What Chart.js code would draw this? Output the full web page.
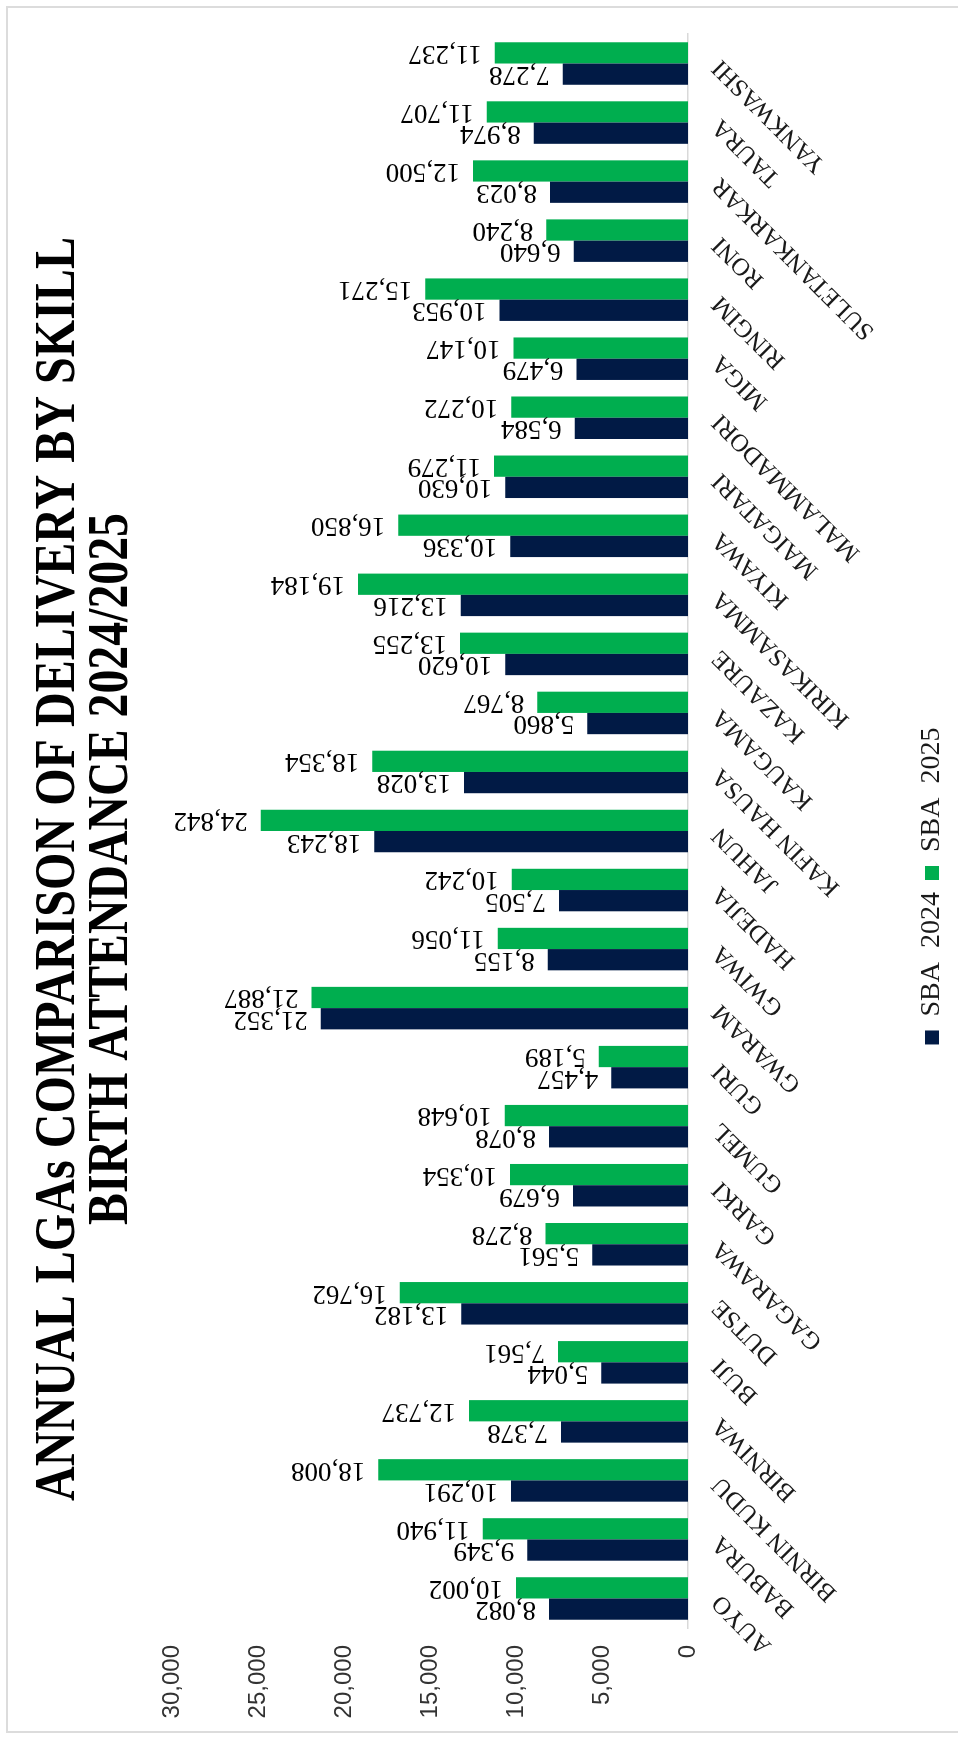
<!DOCTYPE html>
<html>
<head>
<meta charset="utf-8">
<script src="https://cdn.jsdelivr.net/npm/chart.js@4.4.1/dist/chart.umd.min.js"></script>
<style>
html,body{margin:0;padding:0;background:#fff;width:958px;height:1738px;overflow:hidden;}
#wrap{position:absolute;left:0;top:1738px;width:1738px;height:958px;transform-origin:0 0;transform:rotate(-90deg);background:#fff;}
#frame{position:absolute;left:5px;top:6px;width:1727px;height:960px;border:2px solid #dcdcdc;border-bottom:none;box-sizing:border-box;}
canvas{position:absolute;left:0;top:0;}
</style>
</head>
<body>
<div id="wrap"><div id="frame"></div><canvas id="c" width="1738" height="958"></canvas></div>
<script>
const categories = ["AUYO","BABURA","BIRNIN KUDU","BIRNIWA","BUJI","DUTSE","GAGARAWA","GARKI","GUMEL","GURI","GWARAM","GWIWA","HADEJIA","JAHUN","KAFIN HAUSA","KAUGAMA","KAZAURE","KIRIKASAMMA","KIYAWA","MAIGATARI","MALAMMADORI","MIGA","RINGIM","RONI","SULETANKARKAR","TAURA","YANKWASHI"];
const sba2024 = [8082,9349,10291,7378,5044,13182,5561,6679,8078,4457,21352,8155,7505,18243,13028,5860,10620,13216,10336,10630,6584,6479,10953,6640,8023,8974,7278];
const sba2025 = [10002,11940,18008,12737,7561,16762,8278,10354,10648,5189,21887,11056,10242,24842,18354,8767,13255,19184,16850,11279,10272,10147,15271,8240,12500,11707,11237];
const seriesNames = ["SBA  2024","SBA  2025"];
const valueTicks = [0,5000,10000,15000,20000,25000,30000];
const titleLines = ["ANNUAL LGAs COMPARISON OF DELIVERY BY SKILL","BIRTH ATTENDANCE 2024/2025"];

const fmt = v => Number(v).toLocaleString('en-US');

const valueLabels = {
  id:'valueLabels',
  afterDatasetsDraw(chart){
    const c = chart.ctx;
    c.save();
    c.font = '27px "Liberation Serif"';
    c.fillStyle = '#000';
    c.textAlign = 'left';
    c.textBaseline = 'middle';
    chart.data.datasets.forEach((ds,i)=>{
      const meta = chart.getDatasetMeta(i);
      meta.data.forEach((bar,j)=>{
        c.save();
        c.translate(bar.x, bar.y - 13);
        c.rotate(-Math.PI/2);
        c.fillText(fmt(ds.data[j]), 0, 0);
        c.restore();
      });
    });
    c.restore();
  }
};

const titlePlugin = {
  id:'condTitle',
  afterDraw(chart){
    const c = chart.ctx;
    const widths = [1264, 712];
    const baselines = [74, 127];
    c.save();
    c.fillStyle = '#000';
    c.font = 'bold 56px "Liberation Serif"';
    c.textAlign = 'center';
    c.textBaseline = 'alphabetic';
    titleLines.forEach((t,i)=>{
      const w = c.measureText(t).width;
      c.save();
      c.translate(869, baselines[i]);
      c.scale(widths[i]/w, 1);
      c.fillText(t, 0, 0);
      c.restore();
    });
    c.restore();
  }
};

new Chart(document.getElementById('c').getContext('2d'), {
  type:'bar',
  data:{
    labels:categories,
    datasets:[
      {label:seriesNames[0], data:sba2024, backgroundColor:'#011A45', barPercentage:1, categoryPercentage:0.72},
      {label:seriesNames[1], data:sba2025, backgroundColor:'#00AE4F', barPercentage:1, categoryPercentage:0.72}
    ]
  },
  options:{
    responsive:false,
    animation:false,
    devicePixelRatio:1,
    layout:{padding:{top:172,left:0,right:34,bottom:2}},
    plugins:{
      legend:{position:'bottom', labels:{font:{family:'"Liberation Serif"', size:28}, color:'#1a1a1a', boxWidth:14, boxHeight:14, padding:12}},
      tooltip:{enabled:false},
      title:{display:false}
    },
    scales:{
      x:{
        grid:{display:false},
        border:{display:true, color:'#d9d9d9', width:1.5},
        ticks:{autoSkip:false, minRotation:45, maxRotation:45, font:{family:'"Liberation Serif"', size:25}, color:'#1a1a1a', padding:10},
        afterFit(s){ const lg = s.chart.legend; const lh = lg ? lg.height : 0; s.height = s.chart.height - 2 - lh - 688; }
      },
      y:{
        min:valueTicks[0], max:valueTicks[valueTicks.length-1],
        grid:{display:false, drawTicks:false},
        border:{display:false},
        ticks:{stepSize:valueTicks[1]-valueTicks[0], font:{family:'"Liberation Sans"', size:24}, color:'#333', padding:17, callback:v=>fmt(v)},
        afterFit(s){ s.width = 110; }
      }
    }
  },
  plugins:[valueLabels, titlePlugin]
});
</script>
</body>
</html>
